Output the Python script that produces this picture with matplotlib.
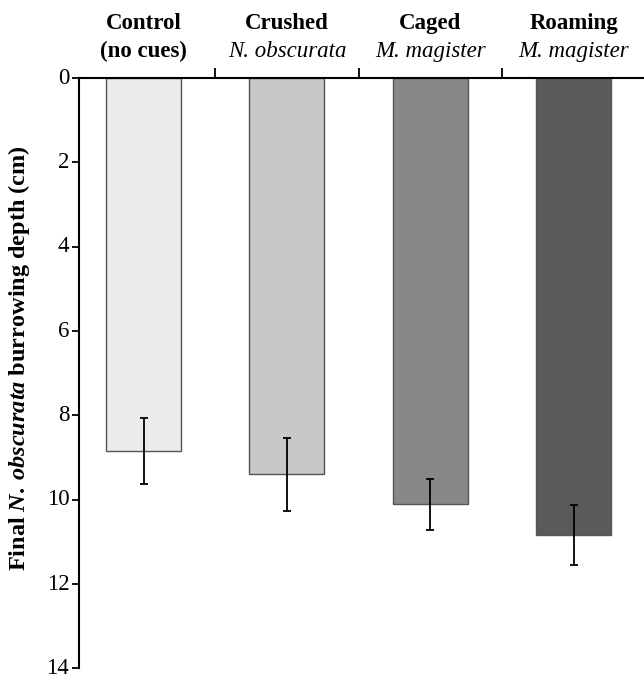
import matplotlib
matplotlib.use("Agg")
import matplotlib.pyplot as plt
import numpy as np

plt.rcParams["font.family"] = ["Liberation Serif", "DejaVu Serif"]
plt.rcParams["mathtext.fontset"] = "custom"
plt.rcParams["mathtext.it"] = "Liberation Serif:italic:bold"
plt.rcParams["mathtext.rm"] = "Liberation Serif:bold"

# ── data ──────────────────────────────────────────────────────────────────────
line1 = ["Control", "Crushed", "Caged", "Roaming"]
line2 = ["(no cues)", "N. obscurata", "M. magister", "M. magister"]
line2_italic = [False, True, True, True]
depth = [8.85, 9.40, 10.10, 10.84]
err_low = [8.06, 8.54, 9.51, 10.13]
err_high = [9.62, 10.26, 10.72, 11.55]
colors = ["#ebebeb", "#c8c8c8", "#888888", "#5a5a5a"]
yticks = [0, 2, 4, 6, 8, 10, 12, 14]

fig = plt.figure(figsize=(6.44, 6.79), dpi=100)
ax = fig.add_axes([0.1227, 0.0155, 0.8773, 0.8696])

x = np.arange(len(depth))
ax.bar(x, depth, width=0.523, color=colors, edgecolor="#555555", linewidth=1.0, zorder=2)

lower = np.array(depth) - np.array(err_low)
upper = np.array(err_high) - np.array(depth)
ax.errorbar(x, depth, yerr=[lower, upper], fmt="none", ecolor="black",
            elinewidth=1.3, capsize=3, capthick=1.3, zorder=3)

ax.set_xlim(-0.45, 3.49)
ax.set_ylim(14, 0)
ax.set_yticks(yticks)
ax.set_yticklabels([str(t) for t in yticks], fontsize=16.5)
for lbl in ax.get_yticklabels():
    lbl.set_va("center")

ax.xaxis.tick_top()
ax.set_xticks([0.5, 1.5, 2.5])
ax.set_xticklabels([])
ax.tick_params(axis="x", direction="out", length=7, width=1.3)
ax.tick_params(axis="y", direction="out", length=5, width=1.3, pad=2)

ax.spines["bottom"].set_visible(False)
ax.spines["right"].set_visible(False)
ax.spines["top"].set_linewidth(1.5)
ax.spines["left"].set_linewidth(1.5)

tr = ax.get_xaxis_transform()
for i in range(len(line1)):
    ax.text(x[i], 1.083, line1[i], transform=tr,
            ha="center", va="baseline", fontsize=16.5, fontweight="bold")
    if line2_italic[i]:
        ax.text(x[i], 1.036, line2[i], transform=tr,
                ha="center", va="baseline", fontsize=16.5, fontstyle="italic")
    else:
        ax.text(x[i], 1.036, line2[i], transform=tr,
                ha="center", va="baseline", fontsize=16.5, fontweight="bold")

ax.set_ylabel(r"Final $\mathit{N.\:obscurata}$ burrowing depth (cm)",
              fontsize=17.5, fontweight="bold")
ax.yaxis.set_label_coords(-0.083, 0.525)

fig.savefig("out.png", dpi=100)
